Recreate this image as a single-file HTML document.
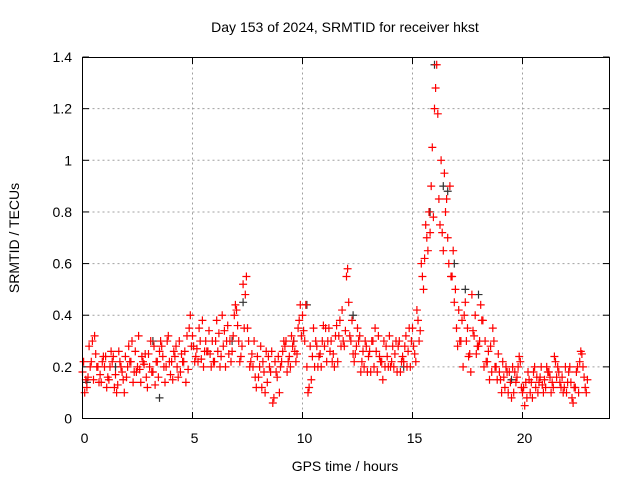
<!DOCTYPE html>
<html><head><meta charset="utf-8">
<style>
body{margin:0;background:#fff;}
svg{display:block;font-family:"Liberation Sans",sans-serif;}
</style></head>
<body>
<svg id="chart" width="640" height="480" viewBox="0 0 640 480" xmlns="http://www.w3.org/2000/svg">
<rect width="640" height="480" fill="#fff"/>
<text x="345" y="32" font-size="14" text-anchor="middle">Day 153 of 2024, SRMTID for receiver hkst</text>
<text x="345" y="471" font-size="14" text-anchor="middle">GPS time / hours</text>
<text transform="translate(19,238) rotate(-90)" font-size="14" text-anchor="middle">SRMTID / TECUs</text>
<g id="grid"></g>
<g id="ticks"></g>
<g id="points"></g>
<rect x="82.5" y="57.5" width="527" height="361" fill="none" stroke="#000" stroke-width="1"/>
</svg>
<script>
const xTicks=[0,5,10,15,20];
const yTicks=[0,0.2,0.4,0.6,0.8,1,1.2,1.4];
const yTickLabels=["0","0.2","0.4","0.6","0.8","1","1.2","1.4"];
const seriesA=[0.18,0.12,0.22,0.25,0.17,0.2,0.15,0.24,0.13,0.18,0.16,0.22,0.26,0.19,0.21,0.25,0.18,0.22,0.28,0.2,0.17,0.24,0.3,0.22,0.19,0.32,0.27,0.23,0.3,0.25,0.22,0.33,0.28,0.36,0.26,0.42,0.24,0.48,0.2,0.3,0.16,0.22,0.14,0.26,0.18,0.2,0.28,0.24,0.3,0.35,0.4,0.2,0.15,0.3,0.25,0.28,0.35,0.25,0.22,0.42,0.55,0.3,0.25,0.32,0.2,0.24,0.3,0.18,0.22,0.28,0.2,0.25,0.3,0.22,0.26,0.35,0.42,0.6,0.75,0.72,1.2,0.85,0.65,0.7,0.55,0.35,0.3,0.45,0.25,0.32,0.28,0.38,0.22,0.18,0.2,0.15,0.12,0.18,0.1,0.2,0.1,0.08,0.14,0.12,0.16,0.15,0.18,0.12,0.2,0.16,0.1,0.14,0.12,0.22,0.16];
const seriesB=[0.1,0.28,0.15,0.2,0.22,0.12,0.26,0.17,0.22,0.1,0.28,0.14,0.2,0.24,0.16,0.3,0.13,0.26,0.2,0.32,0.15,0.2,0.25,0.14,0.4,0.22,0.35,0.2,0.26,0.3,0.38,0.24,0.2,0.3,0.4,0.3,0.52,0.35,0.25,0.12,0.28,0.1,0.2,0.08,0.24,0.26,0.18,0.32,0.22,0.44,0.3,0.12,0.35,0.2,0.3,0.22,0.3,0.32,0.38,0.28,0.45,0.25,0.35,0.22,0.28,0.18,0.35,0.24,0.3,0.2,0.28,0.18,0.22,0.32,0.2,0.25,0.3,0.5,0.65,1.05,1.37,1.0,0.8,0.9,0.45,0.42,0.2,0.35,0.48,0.25,0.44,0.3,0.15,0.3,0.25,0.22,0.18,0.08,0.14,0.22,0.05,0.15,0.18,0.1,0.13,0.2,0.1,0.22,0.14,0.12,0.18,0.06,0.2,0.25,0.1];
const seriesC=[0.22,0.16,0.3,0.2,0.14,0.24,0.2,0.12,0.26,0.15,0.2,0.3,0.18,0.14,0.25,0.2,0.28,0.16,0.24,0.3,0.22,0.28,0.18,0.26,0.35,0.28,0.22,0.38,0.26,0.2,0.3,0.2,0.34,0.25,0.32,0.36,0.28,0.55,0.22,0.16,0.2,0.18,0.24,0.06,0.16,0.22,0.3,0.2,0.26,0.38,0.34,0.1,0.24,0.28,0.2,0.35,0.26,0.2,0.32,0.3,0.58,0.38,0.28,0.18,0.3,0.26,0.2,0.32,0.15,0.24,0.22,0.3,0.18,0.28,0.35,0.28,0.38,0.55,0.7,0.9,1.28,0.75,0.95,0.6,0.65,0.28,0.38,0.3,0.18,0.4,0.3,0.2,0.26,0.35,0.15,0.1,0.2,0.14,0.18,0.24,0.12,0.18,0.08,0.16,0.2,0.12,0.16,0.24,0.18,0.1,0.14,0.08,0.18,0.26,0.12];
const seriesD=[0.15,0.2,0.32,0.14,0.24,0.16,0.22,0.1,0.2,0.24,0.22,0.18,0.32,0.22,0.12,0.18,0.22,0.3,0.14,0.22,0.26,0.16,0.22,0.32,0.28,0.24,0.3,0.26,0.34,0.22,0.26,0.4,0.3,0.22,0.44,0.22,0.35,0.3,0.2,0.24,0.12,0.26,0.18,0.22,0.1,0.3,0.22,0.28,0.25,0.32,0.44,0.28,0.2,0.24,0.36,0.3,0.22,0.36,0.28,0.34,0.32,0.22,0.3,0.26,0.18,0.3,0.26,0.22,0.2,0.32,0.2,0.28,0.24,0.2,0.3,0.22,0.34,0.62,0.8,0.78,1.18,0.72,0.85,0.55,0.5,0.3,0.4,0.24,0.34,0.28,0.38,0.22,0.28,0.2,0.18,0.16,0.1,0.2,0.16,0.12,0.14,0.1,0.2,0.14,0.1,0.18,0.14,0.16,0.12,0.2,0.2,0.12,0.1,0.2,0.15];
const blackHours=[0.2,1.5,3.2,3.5,6.8,7.3,9.6,10.2,12.3,14.6,15.8,16.0,16.4,16.6,16.9,17.4,18.0,19.5];
const blackValues=[0.14,0.2,0.3,0.08,0.3,0.45,0.3,0.44,0.4,0.2,0.8,1.37,0.9,0.88,0.6,0.5,0.48,0.15];
const X=h=>82.5+h*22;
const Y=v=>418.5-v*258.2;
const NS='http://www.w3.org/2000/svg';
const grid=document.getElementById('grid'),ticks=document.getElementById('ticks'),pts=document.getElementById('points');
function mk(tag,attrs,parent){const e=document.createElementNS(NS,tag);for(const k in attrs)e.setAttribute(k,attrs[k]);parent.appendChild(e);return e;}
xTicks.forEach(t=>{
  const x=X(t);
  if(t>0){const g=mk('line',{x1:x,x2:x,y1:57.5,y2:418.5,stroke:'#a0a0a0','stroke-dasharray':'2,3'},grid);}
  const a=mk('line',{x1:x,x2:x,y1:418.5,y2:412,stroke:'#000'},ticks);
  const b=mk('line',{x1:x,x2:x,y1:57.5,y2:64,stroke:'#000'},ticks);
  const l=mk('text',{x:x+2,y:443,'font-size':14,'text-anchor':'middle'},ticks);l.textContent=t;
});
yTicks.forEach((t,i)=>{
  const y=Y(t);
  if(t>0&&t<1.4){const g=mk('line',{x1:82.5,x2:609.5,y1:y,y2:y,stroke:'#a0a0a0','stroke-dasharray':'2,3'},grid);}
  const a=mk('line',{x1:82.5,x2:89,y1:y,y2:y,stroke:'#000'},ticks);
  const b=mk('line',{x1:603,x2:609.5,y1:y,y2:y,stroke:'#000'},ticks);
  const l=mk('text',{x:72,y:y+5,'font-size':14,'text-anchor':'end'},ticks);l.textContent=yTickLabels[i];
});
function plus(h,v,color){
  const x=X(h),y=Y(v);
  const p=mk('path',{d:`M${x-4},${y}H${x+4}M${x},${y-4}V${y+4}`,stroke:color,'stroke-width':1.2,fill:'none'},pts);
  
  
}
blackHours.forEach((h,i)=>plus(h,blackValues[i],'#333'));
seriesA.forEach((v,i)=>plus(i*0.2,v,'#f00'));
seriesB.forEach((v,i)=>plus(0.1+i*0.2,v,'#f00'));
seriesC.forEach((v,i)=>plus(0.05+i*0.2,v,'#f00'));
seriesD.forEach((v,i)=>plus(0.15+i*0.2,v,'#f00'));
</script>
</body></html>
